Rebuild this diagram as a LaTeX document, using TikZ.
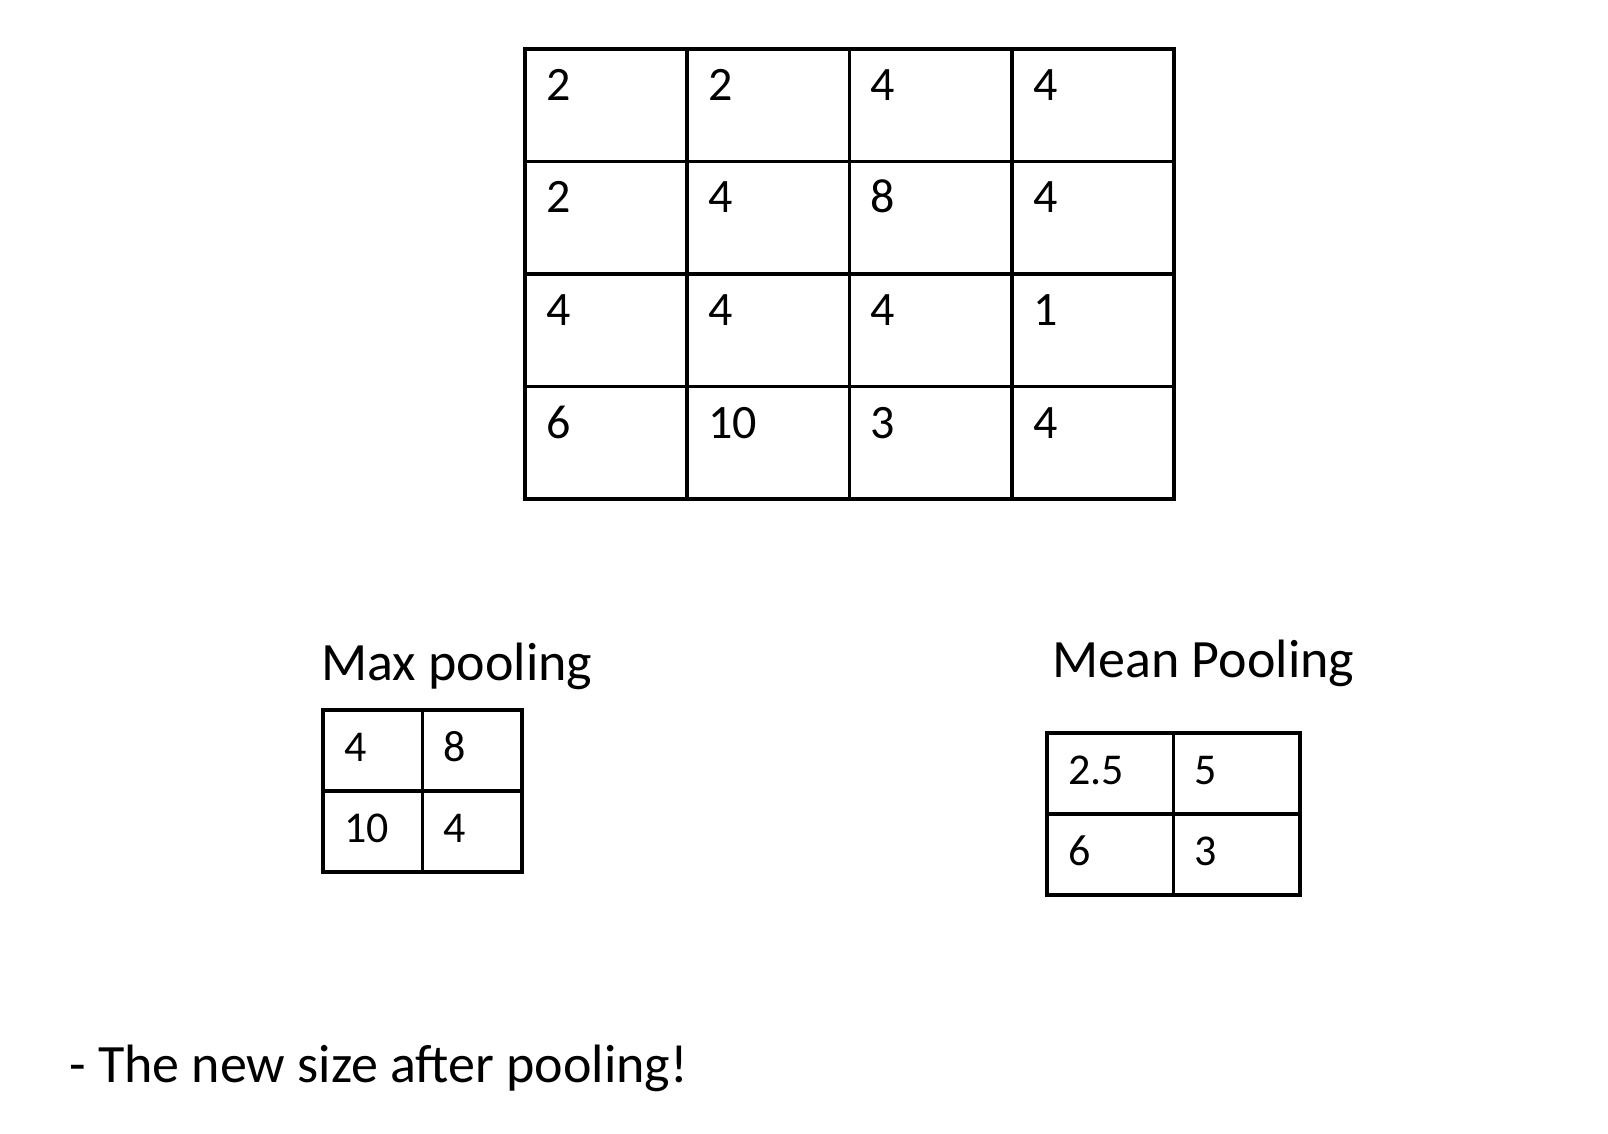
\documentclass[tikz,border=0pt]{standalone}
\usepackage{fontspec}
\setmainfont{Carlito}
\usetikzlibrary{calc}
\tikzset{
  cell/.style={draw,line width=1.8pt,inner sep=0pt,outer sep=0pt,anchor=north west},
  bigcell/.style={cell,minimum width=81.1pt,minimum height=56.25pt},
  maxcell/.style={cell,minimum width=49.75pt,minimum height=40.5pt},
  meancell/.style={cell,minimum width=63.25pt,minimum height=40.5pt},
  num/.style={inner sep=0pt,anchor=base west,font=\fontsize{22}{26}\selectfont},
  bignum/.style={num,font=\fontsize{24}{28}\selectfont},
  title/.style={inner sep=0pt,anchor=base west,font=\fontsize{27}{32}\selectfont}
}

\begin{document}
\begin{tikzpicture}[x=0.5pt,y=-0.5pt]
  \useasboundingbox (0,0) rectangle (1608,1134);
  % input map
  \foreach \v [count=\i from 0] in {2,2,4,4,2,4,8,4,4,4,4,1,6,10,3,4} {
    \pgfmathtruncatemacro{\row}{int(\i/4)+1}
    \pgfmathtruncatemacro{\col}{mod(\i,4)+1}
    \node[bigcell] (in\row\col) at ({525+(\col-1)*162.25},{49+(\row-1)*112.5}) {};
    \node[bignum] (v\row\col) at ($(in\row\col.north west)+(21,51.5)$) {\v};
  }
  % max pooling
  \node[title] (maxlbl) at (321,680) {Max pooling};
  \foreach \v [count=\i from 0] in {4,8,10,4} {
    \pgfmathtruncatemacro{\row}{int(\i/2)+1}
    \pgfmathtruncatemacro{\col}{mod(\i,2)+1}
    \node[maxcell] (max\row\col) at ({323+(\col-1)*99.5},{710+(\row-1)*81}) {};
    \node[num] (mx\row\col) at ($(max\row\col.north west)+(21,51)$) {\v};
  }
  % mean pooling
  \node[title] (meanlbl) at (1052,677) {Mean Pooling};
  \foreach \v [count=\i from 0] in {2.5,5,6,3} {
    \pgfmathtruncatemacro{\row}{int(\i/2)+1}
    \pgfmathtruncatemacro{\col}{mod(\i,2)+1}
    \node[meancell] (mean\row\col) at ({1047+(\col-1)*126.5},{733+(\row-1)*81}) {};
    \node[num] (mn\row\col) at ($(mean\row\col.north west)+(21,51.5)$) {\v};
  }
  \node[title] (note) at (69,1082) {- The new size after pooling!};
\end{tikzpicture}
\end{document}
